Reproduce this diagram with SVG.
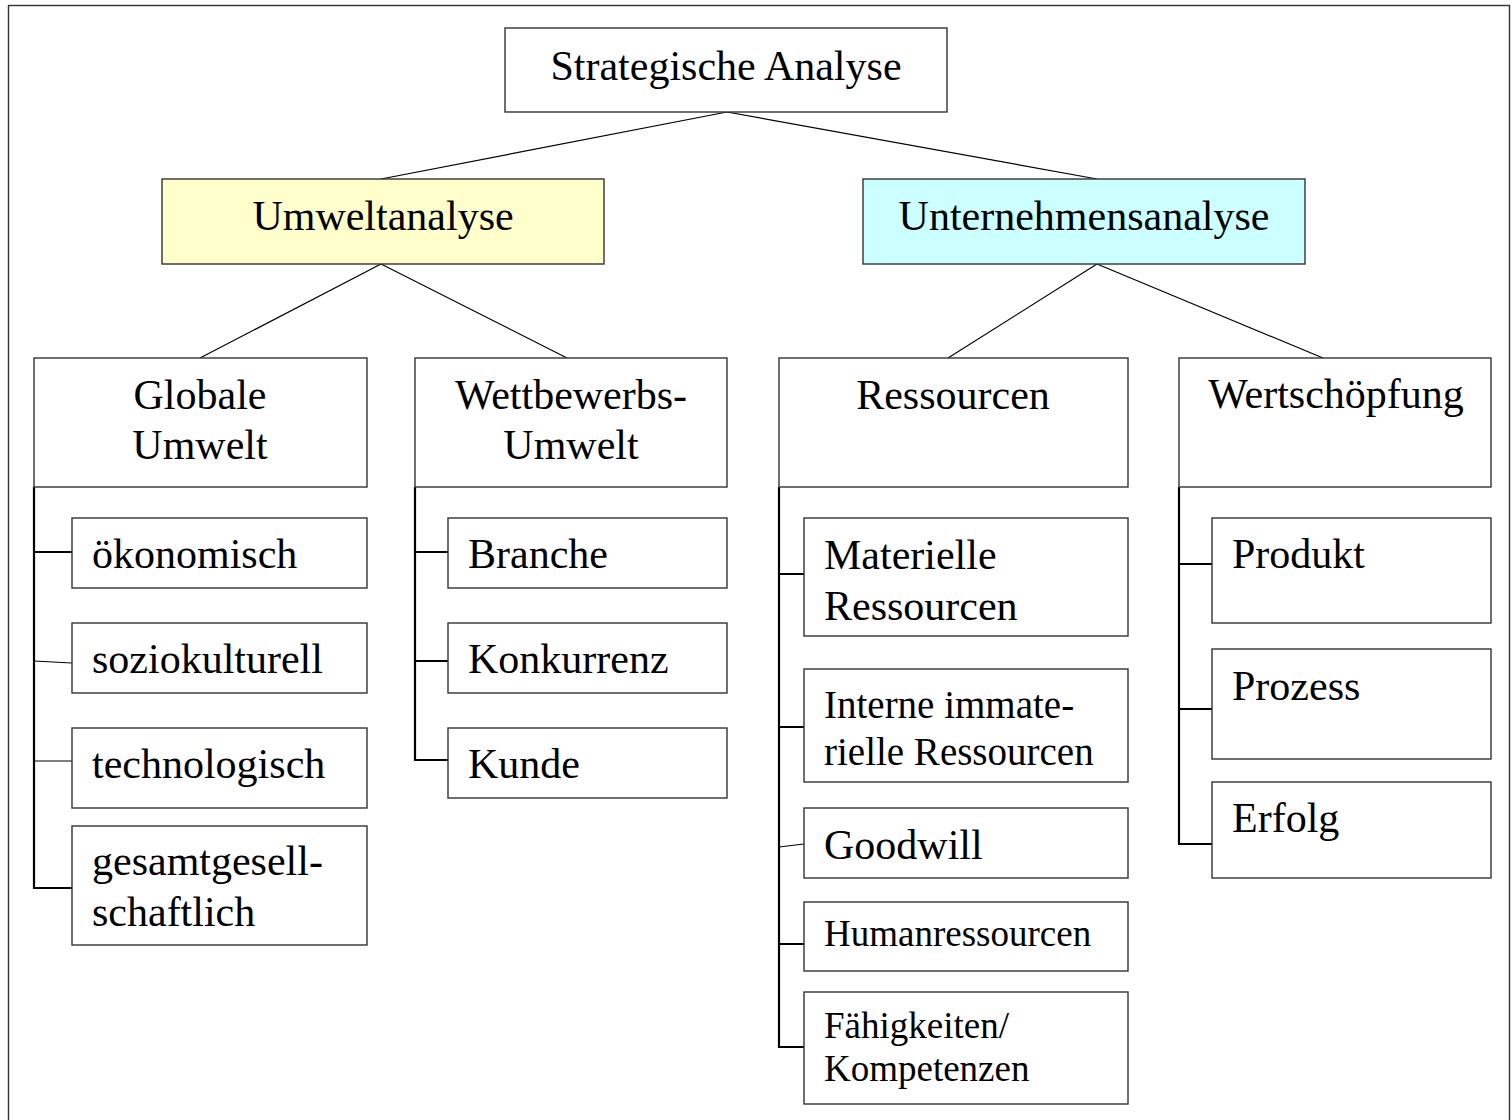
<svg xmlns="http://www.w3.org/2000/svg" width="1512" height="1120" viewBox="0 0 1512 1120">
  <style>
    .box { fill: #ffffff; stroke: #333333; stroke-width: 1.4; }
    .env { fill: #ffffcc; }
    .corp { fill: #ccffff; }
    .t { font-family: "Liberation Serif", "Times New Roman", serif; font-size: 42px; fill: #000000; }
    .c { text-anchor: middle; }
    .s39 { font-size: 39px; }
    .s37 { font-size: 37px; }
    .link { stroke: #000000; stroke-width: 1.2; fill: none; }
    .trunk { stroke: #000000; stroke-width: 2.2; fill: none; }
    .thin { stroke: #000000; stroke-width: 1.2; fill: none; }
  </style>

  <rect x="0" y="0" width="1512" height="1120" fill="#ffffff"/>
  <!-- outer frame -->
  <rect x="8.5" y="5.5" width="1501" height="1140" fill="none" stroke="#333333" stroke-width="1.4"/>

  <!-- connectors -->
  <g id="connectors">
    <path class="link" d="M727 112 L381 179 M727 112 L1097 179"/>
    <path class="link" d="M381 264 L200 358 M381 264 L567 358"/>
    <path class="link" d="M1097 264 L948 358 M1097 264 L1323 358"/>

    <!-- Globale Umwelt -->
    <path class="trunk" d="M34 487 L34 888 L72 888 M34 552 L72 552"/>
    <path class="thin" d="M34 661 L72 663 M34 761 L72 761"/>
    <!-- Wettbewerbs-Umwelt -->
    <path class="trunk" d="M415 487 L415 760 L448 760 M415 552 L448 552 M415 661 L448 661"/>
    <!-- Ressourcen -->
    <path class="trunk" d="M779 487 L779 1047 L804 1047 M779 574 L804 574 M779 727 L804 727 M779 944 L804 944"/>
    <path class="thin" d="M779 847 L804 844"/>
    <!-- Wertschoepfung -->
    <path class="trunk" d="M1179 487 L1179 844 L1212 844 M1179 564 L1212 564 M1179 709 L1212 709"/>
  </g>

  <g id="strategische-analyse">
    <rect class="box" x="505" y="28" width="442" height="84"/>
    <text class="t c" x="726" y="80">Strategische Analyse</text>
  </g>

  <g id="umweltanalyse">
    <rect class="box env" x="162" y="179" width="442" height="85"/>
    <text class="t c" x="383" y="230">Umweltanalyse</text>
  </g>

  <g id="unternehmensanalyse">
    <rect class="box corp" x="863" y="179" width="442" height="85"/>
    <text class="t c" x="1084" y="230">Unternehmensanalyse</text>
  </g>

  <g id="globale-umwelt">
    <rect class="box" x="34" y="358" width="333" height="129"/>
    <text class="t c" x="200" y="409">Globale</text>
    <text class="t c" x="200" y="459">Umwelt</text>
  </g>

  <g id="wettbewerbs-umwelt">
    <rect class="box" x="415" y="358" width="312" height="129"/>
    <text class="t c" x="571" y="409">Wettbewerbs-</text>
    <text class="t c" x="571" y="459">Umwelt</text>
  </g>

  <g id="ressourcen">
    <rect class="box" x="779" y="358" width="349" height="129"/>
    <text class="t c" x="953" y="409">Ressourcen</text>
  </g>

  <g id="wertschoepfung">
    <rect class="box" x="1179" y="358" width="312" height="129"/>
    <text class="t c" x="1336" y="408">Wertschöpfung</text>
  </g>

  <!-- Globale Umwelt children -->
  <g id="oekonomisch">
    <rect class="box" x="72" y="518" width="295" height="70"/>
    <text class="t" x="92" y="568">ökonomisch</text>
  </g>
  <g id="soziokulturell">
    <rect class="box" x="72" y="623" width="295" height="70"/>
    <text class="t" x="92" y="673">soziokulturell</text>
  </g>
  <g id="technologisch">
    <rect class="box" x="72" y="728" width="295" height="80"/>
    <text class="t" x="92" y="778">technologisch</text>
  </g>
  <g id="gesamtgesellschaftlich">
    <rect class="box" x="72" y="826" width="295" height="119"/>
    <text class="t" x="92" y="875">gesamtgesell-</text>
    <text class="t" x="92" y="926">schaftlich</text>
  </g>

  <!-- Wettbewerbs-Umwelt children -->
  <g id="branche">
    <rect class="box" x="448" y="518" width="279" height="70"/>
    <text class="t" x="468" y="568">Branche</text>
  </g>
  <g id="konkurrenz">
    <rect class="box" x="448" y="623" width="279" height="70"/>
    <text class="t" x="468" y="673">Konkurrenz</text>
  </g>
  <g id="kunde">
    <rect class="box" x="448" y="728" width="279" height="70"/>
    <text class="t" x="468" y="778">Kunde</text>
  </g>

  <!-- Ressourcen children -->
  <g id="materielle-ressourcen">
    <rect class="box" x="804" y="518" width="324" height="118"/>
    <text class="t" x="824" y="569">Materielle</text>
    <text class="t" x="824" y="620">Ressourcen</text>
  </g>
  <g id="interne-immaterielle-ressourcen">
    <rect class="box" x="804" y="669" width="324" height="113"/>
    <text class="t s39" x="824" y="718">Interne immate-</text>
    <text class="t s39" x="824" y="765">rielle Ressourcen</text>
  </g>
  <g id="goodwill">
    <rect class="box" x="804" y="808" width="324" height="70"/>
    <text class="t" x="824" y="859">Goodwill</text>
  </g>
  <g id="humanressourcen">
    <rect class="box" x="804" y="902" width="324" height="69"/>
    <text class="t s37" x="824" y="946">Humanressourcen</text>
  </g>
  <g id="faehigkeiten-kompetenzen">
    <rect class="box" x="804" y="992" width="324" height="112"/>
    <text class="t s37" x="824" y="1038">Fähigkeiten/</text>
    <text class="t s37" x="824" y="1081">Kompetenzen</text>
  </g>

  <!-- Wertschoepfung children -->
  <g id="produkt">
    <rect class="box" x="1212" y="518" width="279" height="105"/>
    <text class="t" x="1232" y="568">Produkt</text>
  </g>
  <g id="prozess">
    <rect class="box" x="1212" y="649" width="279" height="110"/>
    <text class="t" x="1232" y="700">Prozess</text>
  </g>
  <g id="erfolg">
    <rect class="box" x="1212" y="782" width="279" height="96"/>
    <text class="t" x="1232" y="832">Erfolg</text>
  </g>
</svg>
